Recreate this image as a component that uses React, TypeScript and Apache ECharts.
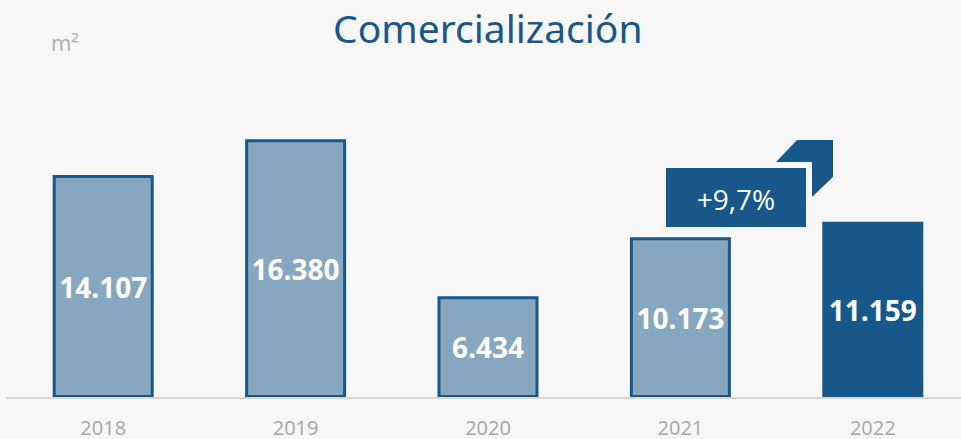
import React, { useEffect, useRef } from "react";
import * as echarts from "echarts";

const categories = ["2018", "2019", "2020", "2021", "2022"];
const values = [14107, 16380, 6434, 10173, 11159];
const valueLabels = ["14.107", "16.380", "6.434", "10.173", "11.159"];
const growthLabel = "+9,7%";
const titleText = "Comercialización";
const unitText = "m²";

const DARK = "#17578a";
const LIGHT = "#87a7c0";

export default function App() {
  const ref = useRef<HTMLDivElement>(null);
  useEffect(() => {
    if (!ref.current) return;
    const chart = echarts.init(ref.current, null, { renderer: "svg" });
    const last = values.length - 1;
    chart.setOption({
      animation: false,
      backgroundColor: "#f7f7f7",
      title: {
        text: titleText,
        left: 328,
        top: 3,
        textStyle: {
          color: DARK,
          fontSize: 39,
          fontWeight: "normal",
          fontFamily: "Noto Sans",
        },
      },
      grid: {
        left: 7,
        width: 962,
        top: 52,
        bottom: 41,
        outerBoundsMode: "none",
        containLabel: false,
      },
      xAxis: {
        type: "category",
        data: categories,
        axisTick: { show: false },
        axisLine: { show: true, lineStyle: { color: "#d6d6d6", width: 2 } },
        axisLabel: {
          color: "#a6a6a6",
          fontSize: 20,
          lineHeight: 20,
          margin: 19,
          fontFamily: "Open Sans",
        },
        z: 5,
      },
      yAxis: {
        type: "value",
        min: 0,
        max: 21900,
        show: false,
        splitLine: { show: false },
      },
      series: [
        {
          type: "bar",
          barWidth: 101,
          data: values.map((v, i) => ({
            value: v,
            itemStyle: {
              color: i === last ? DARK : LIGHT,
              borderColor: DARK,
              borderWidth: 3,
            },
          })),
          label: {
            show: true,
            position: "inside",
            color: "#ffffff",
            fontSize: 28,
            fontWeight: "bold",
            fontFamily: "Open Sans",
            formatter: (p: any) => valueLabels[p.dataIndex],
          },
        },
      ],
      graphic: [
        {
          type: "text",
          left: 51,
          top: 31,
          style: {
            text: unitText,
            fill: "#b0b0b0",
            fontSize: 22,
            fontFamily: "Open Sans",
          },
        },
        {
          type: "polygon",
          shape: {
            points: [
              [797, 140],
              [833, 140],
              [833, 177],
              [812, 197],
              [812, 162],
              [776, 162],
            ],
          },
          style: { fill: DARK },
        },
        {
          type: "rect",
          shape: { x: 666, y: 168, width: 140, height: 59 },
          style: { fill: DARK },
        },
        {
          type: "text",
          x: 736,
          y: 199,
          style: {
            text: growthLabel,
            fill: "#ffffff",
            fontSize: 28,
            fontFamily: "Open Sans",
            align: "center",
            verticalAlign: "middle",
          },
        },
      ],
    });
    return () => chart.dispose();
  }, []);
  return (
    <div
      ref={ref}
      style={{ position: "fixed", left: 0, top: 0, width: 961, height: 439 }}
    />
  );
}
